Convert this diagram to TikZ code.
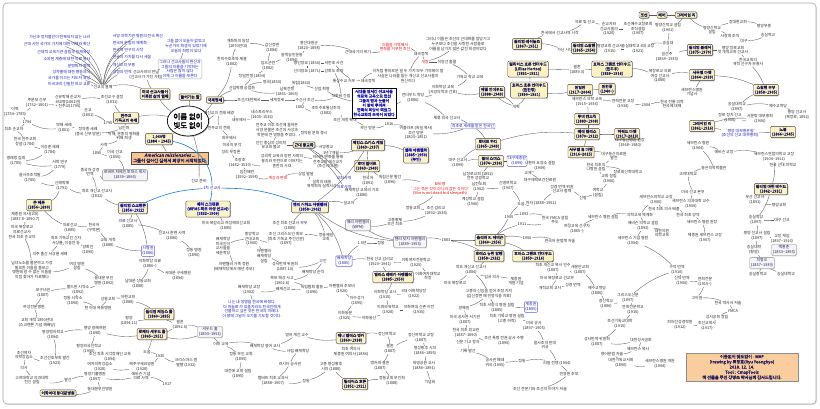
\documentclass[tikz,border=0pt]{standalone}
\usepackage{fontspec}
\newfontfamily\kr[AutoFakeBold=2,AutoFakeSlant=0.2]{Noto Sans CJK KR}
\usetikzlibrary{shadows,shapes.geometric}
\definecolor{kyel}{HTML}{FBF2C4}
\definecolor{knavy}{HTML}{1F1F5F}
\definecolor{kblue}{HTML}{1A1AB4}
\definecolor{kred}{HTML}{E01010}
\definecolor{korg}{HTML}{F8C48C}
\definecolor{kline}{HTML}{5A5A5A}
\newcommand\tw{\char"7E\relax}
\tikzset{
 lbase/.style={font={\kr\fontsize{3.9}{4.6}\selectfont}, align=center, inner sep=0.6pt},
 lb/.style={lbase, text=black!85},
 lbb/.style={lbase, text=kblue},
 lbr/.style={lbase, text=kred},
 tbx/.style={lbase, font={\kr\bfseries\fontsize{3.9}{4.6}\selectfont}, text=knavy, fill=kyel, draw=black!75, line width=0.4pt, rounded corners=1.2pt, inner sep=1.4pt, drop shadow={shadow xshift=0.7pt, shadow yshift=-0.7pt, fill=black!55}},
 tbxb/.style={tbx, text=kblue},
 gbx/.style={lbase, text=knavy, fill=gray!8, draw=black!45, rounded corners=1.5pt, inner sep=1.4pt, drop shadow={shadow xshift=0.6pt, shadow yshift=-0.6pt, fill=black!35}},
 wbx/.style={lbase, text=kblue, fill=white, draw=kblue!70, rounded corners=1pt, inner sep=1pt},
 wbxk/.style={lbase, font={\kr\bfseries\fontsize{3.9}{4.6}\selectfont}, text=kblue, fill=white, draw=black, line width=0.5pt, inner sep=1.5pt, drop shadow={shadow xshift=0.7pt, shadow yshift=-0.7pt, fill=black!55}},
 obx/.style={lbase, font={\kr\bfseries\fontsize{4.4}{5.4}\selectfont}, text=knavy, fill=korg, draw=black!70, line width=0.4pt, inner sep=1.6pt, drop shadow={shadow xshift=0.8pt, shadow yshift=-0.8pt, fill=black!55}},
 con/.style={draw=kline, line width=0.35pt},
 bcon/.style={draw=kblue!55!cyan, line width=0.6pt},
}
\begin{document}
\begin{tikzpicture}[x=1pt,y=-1pt]
\useasboundingbox (0,0) rectangle (820,408);
\fill[white] (0,0) rectangle (820,408);
\draw[draw=black!35, line width=0.6pt, rounded corners=4pt, fill=white, drop shadow={shadow xshift=1pt, shadow yshift=-1pt, fill=black!25}] (3,3) rectangle (816,404);

% ---------------- centre
\node[draw=black, line width=0.7pt, ellipse, fill=white, font={\kr\bfseries\fontsize{7.5}{8.8}\selectfont}, align=center, inner sep=0pt, minimum width=40pt, minimum height=30pt, drop shadow={shadow xshift=0.8pt, shadow yshift=-0.8pt, fill=black!50}] (root) at (188,121) {이름 없이\\빛도 없이};
\node[tbx] (life) at (155,94) {미국 선교사들이\\이룩한 삶의 열매};
\node[tbx] (intro) at (190,97) {들어가는 말};
\node[tbx] (gjs) at (215,100) {국제정세};
\node[tbx] (n1060) at (159,139) {1,060명\\(1884 \tw{} 1945)};
\node[obx] (amer) at (170,158) {\itshape American missionaries ...\\그들이 걸어간 길에서 희망이 시작되었다.};

% ---------------- top-left fan
\node[lb] (hub) at (103,87) {선교의 열매};
\node[lbb,anchor=east] (a1) at (91,37) {가난과 정치불안이 반복되지 않는 나라};
\node[lbb,anchor=east] (a2) at (91,44) {근대 시민 국가의 가치에 대한 이해와 확산};
\node[lbb,anchor=east] (a3) at (91,52) {근대적 교육기관 설립과 인재육성};
\node[lbb,anchor=east] (a4) at (91,59) {소외된 계층에 대한 의료 봉사};
\node[lbb,anchor=east] (a5) at (91,66) {문맹퇴치 협력};
\node[lbb,anchor=east] (a6) at (91,72) {성차별에 대한 평등의식};
\node[lbb,anchor=east] (a7) at (91,78) {국가를 이끄는 지도자 육성};
\node[lbb,anchor=east] (a8) at (91,84) {미국과의 긴밀한 외교 교류};
\node[lbb,anchor=west] (b1) at (112,36) {서양 의학기반 병원의 전국 확산};
\node[lbb,anchor=west] (b2) at (112,43) {한국어 문법의 체계화};
\node[lbb,anchor=west] (b3) at (112,50) {한국학 연구의 시작};
\node[lbb,anchor=west] (b4) at (112,57) {한글의 가치를 다시 세움};
\node[lbb,anchor=west] (b5) at (112,65) {개신교의 부흥};
\node[lbb,anchor=west] (b6) at (112,72) {성경의 번역};
\node[lbb] (c1) at (186,46) {그들 없이 오늘이 없었고\\누군가의 희생이 있었기에\\오늘의 희망이 있다};
\node[lbb, draw=black!30, rounded corners=1.5pt, inner sep=1.2pt] (c2) at (180,69) {그러나 선교사들의 헌신과\\그들의 이름을 기억하는\\사람은 많지 않다\\이제 그 이름을 부른다};
\node[lb] (c3) at (146,75) {선교사와의 만남\\(선교사가 가진 가치)};

% ---------------- left history
\node[tbx] (cath) at (126,118) {천주교\\기독교의 유래};
\node[lb] (k1) at (37,103) {주문모 신부\\(1752\tw1801)};
\node[lb] (k2) at (68,102) {신유박해 순교자\\450명(1801년)\\+ 천주교(1795)};
\node[lb] (k3) at (88,113) {순교\\(1801)};
\node[lb] (k4) at (112,100) {조선교구 설정\\(1831)};
\node[lb] (k5) at (15,112) {이벽\\(1754\tw1785)};
\node[lb] (k6) at (27,122) {1794};
\node[lb] (k7) at (108,123) {1795};
\node[lb] (k8) at (14,129) {최초 순교자};
\node[lb] (k9) at (64,128) {박해 세례\\(1801)};
\node[lb] (k10) at (88,132) {정약종 세례\\(중국 신부 방문)};
\node[lb] (k11) at (124,128) {남인파};
\node[lb] (k12) at (124,136) {박해, 문중의 평화를\\위해 희생};
\node[lb] (k13) at (104,145) {사학};
\node[lb] (k14) at (97,153) {1895};
\node[lb] (k15) at (115,155) {미국 선교\\(1855)};
\node[gbx] (k16) at (125,175) {로버트 저메인 토마스 목사\\(1839\tw1866)};
\node[lb] (k17) at (90,172) {중국어 성경\\번역};
\node[lb] (k18) at (97,194) {최초 개신교 선교사\\(1832)};
\node[lb] (k19) at (25,142) {한국 천주교회\\창설 (1784)};
\node[lb] (k20) at (50,150) {이승훈 세례\\(1784)};
\node[lb] (k21) at (16,161) {명례방 집회\\(1785)};
\node[lb] (k22) at (60,165) {서학 연구\\(1779)};
\node[lb] (k23) at (30,178) {을사추조적발\\(1785)};
\node[lb] (k24) at (62,186) {신해박해\\(1791)};

% ---------------- first missionaries
\node[lbb] (bl1) at (212,188) {1차 선교사};
\node[tbx] (gf1) at (39,205) {존 헤론\\(1856\tw1890)};
\node[tbxb] (gf2) at (133,208) {윌리엄 스크랜튼\\(1856\tw1922)};
\node[tbxb] (gf3) at (208,209) {메리 스크랜튼\\(WFMS 최초 여성 선교사)\\(1832\tw1909)};
\node[tbxb] (gf4) at (310,207) {헨리 거하드 아펜젤러\\(1858\tw1902)};
\node[lb] (h1) at (25,217) {제중원 의사(2대)\\(1887.8\tw1890.7)};
\node[lb] (h2) at (22,232) {미국 북장로교\\의료선교사\\한국 최초 순교자};
\node[lb] (h3) at (70,228) {의료선교\\(1885)};
\node[lb] (h4) at (94,228) {한국어\\(구역본)};
\node[lb] (h5) at (66,241) {최초 기독교인 신자\\서상륜, 이응찬 등};
\node[lb] (h6) at (88,250) {양화진\\(1890)};
\node[lb] (h7) at (50,254) {의주 출신 서상륜 세례};
\node[lb] (h8) at (108,243) {교회 개척\\(1888)};
\node[lb] (s1) at (128,224) {의료 선교사\\(1885)};
\node[wbx] (s2) at (148,251) {시병원\\(1886)};
\node[lb] (s3) at (150,264) {이화학당 의료\\(1886\tw)};
\node[lb] (s4) at (172,236) {선교사 훈련 사역\\(1886)};
\node[lb] (s5) at (194,253) {정동 병원\\(1890)};
\node[lb] (s6) at (178,276) {서대문 구세병원\\(1894)};
\node[lb] (s7) at (138,284) {남대문 상동교회\\(1888)};
\node[lb] (p1) at (226,226) {미국 북감리교 여성해외선교회\\(1885)};
\node[lb] (p2) at (290,226) {조선 최초 선교사 부부\\(1885)};

% ---------------- bottom-left
\node[lb] (l1) at (32,270) {남녀노소를 불문하고 가장\\필요한 이들을 돌보고\\병원에 갈 수 없는 이들을\\직접 찾아가 치료했다};
\node[lb] (l2) at (77,266) {여성 병원\\설립};
\node[lb] (l3) at (104,281) {동대문 부인\\병원 (1892)};
\node[lb] (l4) at (78,290) {볼드윈 시약소\\(1892)};
\node[lb] (l5) at (73,301) {정동 시약소\\(1890)};
\node[lb] (l6) at (43,293) {보구녀관\\(1887)};
\node[lb] (l7) at (34,307) {여성전문병원};
\node[lb] (l8) at (37,323) {교회 개척 1890년대\\(스크랜튼 기념 예배당)};
\node[lb] (l9) at (98,308) {현 이대 목동병원};
\node[lb] (l11) at (108,299) {상동교회};
\node[lb] (l12) at (128,300) {아현교회\\(1888)};
\node[tbx] (l13) at (159,314) {윌리엄 제임스 홀\\(1860\tw1895)};
\node[lb] (l14) at (129,321) {평양\\(1894.11)};
\node[tbx] (l15) at (152,334) {로제타 셔우드 홀\\(1865\tw1951)};
\node[gbx] (l16) at (210,332) {셔우드 홀\\(1893\tw1991)};
\node[lb] (l17) at (180,325) {결혼\\(1892.6)};
\node[lb] (l18) at (95,331) {평양 광혜여원\\(1898)};
\node[lb] (l19) at (53,335) {평양맹아학교\\(1894)};
\node[lb] (l20) at (89,349) {평양외국인학교\\(1900)};
\node[lb] (l21) at (110,357) {조선 최초 시각장애인 교육\\(1894)};
\node[lb] (l22) at (55,361) {조선간호부회 발간\\(1923)};
\node[lb] (l23) at (147,352) {도움};
\node[lb] (l24) at (160,356) {1930};
\node[lb] (l25) at (186,363) {크리스마스 씰\\발행 (1932)};
\node[lb] (l26) at (142,367) {해주구세요양원\\(1928)};
\node[lb] (l27) at (100,367) {여자의학강습소\\(1928)};
\node[lb] (l28) at (24,355) {조선여자\\의학강습소};
\node[lb] (l29) at (24,368) {의사};
\node[lb] (l30) at (32,380) {고려대학교 의과대학\\전신 설립};
\node[lb] (l31) at (68,380) {발간};
\node[lb] (l32) at (95,377) {평양기홀병원\\(1897)};
\node[lb] (l33) at (141,376) {에비슨 기념\\의료 사역};
\node[lb] (l34) at (167,384) {1917};
\node[lb] (l35) at (100,389) {동대문부인병원};
\node[tbx] (l36) at (58,393) {이화여대 동대문병원};

% ---------------- region B (history)
\node[lb] (B1) at (242,88) {산업혁명 공업화};
\node[lb] (B2) at (287,92) {남북전쟁\\(1861\tw1865)};
\node[lb] (B3) at (272,82) {영국(1850)};
\node[lb] (B4) at (301,83) {독립(1860)};
\node[lb] (B5) at (322,89) {산업 혁명};
\node[lb] (B6) at (249,100) {조선/대한제국};
\node[lb] (B7) at (277,100) {세계정세};
\node[lb] (B8) at (305,100) {수신사 조선};
\node[lb] (B9) at (300,107) {1882};
\node[lb] (B10) at (326,111) {조미수호통상조약\\(1882)};
\node[lb] (B11) at (219,113) {개신교의 전래 배경};
\node[lb] (B12) at (239,120) {내부에서};
\node[lb] (B13) at (262,115) {네스토리우스\\(1405\tw1536)};
\node[lb] (B14) at (277,130) {천주교 이후 조선에 들어온\\서양 문물은 조선의 사상과\\학문에 큰 영향을 주었다.};
\node[lb] (B15) at (219,128) {천주교의 전래};
\node[lb] (B16) at (229,138) {외부에서};
\node[lb] (B17) at (314,133) {정약용 문화 중시};
\node[lb] (B18) at (271,145) {인간 중심의 성리학\\유교와 불교};
\node[tbx] (B19) at (304,145) {근대 종교화};
\node[lb] (B20) at (326,147) {서양종교};
\node[lb] (B21) at (232,145) {미국의 부각};
\node[lb] (B22) at (231,152) {성리 부정론};
\node[lb] (B23) at (240,163) {조광조\\(1482\tw1519)};
\node[lb] (B24) at (282,161) {성리학 교육과 양반 사회의\\붕괴와 민란으로 이어지는\\혼란의 시대};
\node[lb] (B25) at (328,162) {이러한 변화를 통해\\천주교와 개신교가\\(조선시대 말)};
\node[lb] (B26) at (247,175) {임진왜란\\(1592\tw1598)};
\node[lbr] (B27) at (278,178) {계승과 변화};
\node[lb] (B28) at (306,174) {상업 발달};
\node[lb] (B29) at (322,184) {실학의 태동\\북학파의 실학사상};
\node[lb] (B30) at (199,181) {선교 준비};
\node[lb] (m1) at (238,44) {개화파의 등장\\(1870년대)};
\node[lb] (m2) at (272,48) {갑신정변\\(1884)};
\node[lb] (m3) at (232,62) {한미수호조약 체결\\(1882)};
\node[lb] (m4) at (268,66) {임오군란\\(1882)};
\node[lb] (m5) at (292,58) {동학농민운동\\(1894)};
\node[lb] (m6) at (252,76) {청일전쟁 (1894)};

% ---------------- region C
\node[lb] (d1) at (309,46) {흥선대원군\\(1820\tw1898)};
\node[lbr] (d2) at (395,47) {이름을 거역해서\\변화를 거부한 조선};
\node[lb] (d3) at (421,54) {쇄국정책};
\node[lb] (d4) at (458,44) {그러나 이들은 조선의 근대화를 앞당기고\\누구보다 조선을 사랑한 사람들로\\이름을 남기지 않은 값진 희생이었다};
\node[lbr] (d5) at (425,62) {개항};
\node[lb] (d6) at (447,62) {이양선 출몰};
\node[lb] (d7) at (408,76) {이처럼 흥미로운 일 두 가지 모두 기억해야 할\\사실은 나라를 돕는 개신교 선교사들의\\헌신이다};
\node[lb] (d8) at (470,77) {기독교 학교 교육};
\node[lb] (d9) at (443,90) {이화학당 교육\\(서양의학과 간호)};
\node[tbx] (d10) at (492,92) {에델 언더우드\\(1888\tw1949)};
\node[wbxk] (d11) at (374,103) {시대를 앞서간 선교사들\\의료와 교육으로 헌신\\그들의 땀과 눈물이\\이 땅에 뿌려져\\민족의 희망이 되었고\\한국교회의 초석이 되었다};
\node[lb] (d12) at (413,98) {언더우드 학당\\(1886)};
\node[lb] (d13) at (447,118) {체류 외국 선교사};
\node[wbx] (d14) at (473,126) {최초로 세례를 받은 한국인};
\node[lb] (d15) at (416,133) {귀츨라프 (독일 목사)\\조선 방문\\(1803\tw1851)};
\node[lb] (d16) at (389,124) {1816};
\node[lb] (d17) at (368,128) {부산 방문};
\node[lb] (d18) at (307,63) {병인양요 (1866)};
\node[lb] (d19) at (334,63) {셔먼호 사건};
\node[lb] (d20) at (307,71) {신미양요 (1871)};
\node[lb] (d21) at (334,71) {강화도 조약};
\node[lb] (d22) at (354,81) {통상수교 거부 → 쇄국정책};
\node[lb] (d23) at (341,96) {척화비 건립};
\node[lb] (d24) at (345,120) {조선 개항 확대};
\node[lb] (d25) at (358,52) {근대국가의 위기};

% ---------------- region D (top right)
\node[tbx] (e1) at (644,15) {조선};
\node[tbx] (e1b) at (662,15) {베버};
\node[tbx] (e1c) at (686,15) {그레이엄 리};
\node[lb] (e2) at (668,28) {평양신학교 설립\\(1901)};
\node[lb] (e3) at (585,22) {의료 및 선교};
\node[lb] (e4) at (560,33) {한국에서 선교사역 시작};
\node[lb] (e5) at (609,29) {순교자와\\선교사들의\\(1920)};
\node[lb] (e6) at (638,29) {조선예수교장로회\\조직설립\\(1907)};
\node[tbx] (e7) at (527,44) {윌리엄 레이놀즈\\(1867\tw1951)};
\node[lb] (e8) at (565,50) {가난 시대};
\node[tbx] (e9) at (584,48) {윌리엄 스왈렌\\(1865\tw1954)};
\node[lb] (e10) at (610,49) {평양교회 선교사\\(1915)};
\node[lb] (e11) at (638,49) {숭실대학교 4대 교장\\(1921)};
\node[lb] (e12) at (668,43) {숭실대};
\node[tbx] (e13) at (700,50) {윌리엄 블레어\\(1875\tw1970)};
\node[lb] (e14) at (733,50) {평양 장로교회\\첫 개척교회 선교사};
\node[lb] (e15) at (748,62) {한국교회의\\개척 선구자 부흥사};
\node[lb] (e16) at (667,57) {길선주\\(1869\tw1935)};
\node[tbx] (e17) at (528,69) {릴리어스 호튼 언더우드\\(Lillias Horton)\\(1851\tw1921)};
\node[lb] (e18) at (577,70) {결혼\\(1889.3)};
\node[tbx] (e19) at (612,69) {호러스 그랜트 언더우드\\(원두우)\\(1859\tw1916)};
\node[lb] (e20) at (660,76) {북장로교 의료\\여성 선교사\\(1888)};
\node[tbx] (e22) at (702,75) {사무엘 마펫\\(1864\tw1939)};
\node[lb] (e23) at (692,92) {세브란스병원\\기념사};
\node[tbx] (e24) at (529,90) {호러스 호튼 언더우드\\(원한경)\\(1890\tw1951)};
\node[tbx] (e25) at (580,90) {원일한\\(1917\tw2004)};
\node[tbx] (e26) at (607,89) {원한광\\(1940\tw)};
\node[lb] (e27) at (587,102) {세브란스 의학 교육\\(1915\tw1934)};
\node[lb] (e28) at (623,104) {연희전문 교장\\(1934)};
\node[lb] (e29) at (646,105) {2004};
\node[lb] (e30) at (672,104) {한국 전통 의학\\한국에 대해};
\node[lb] (e31) at (516,107) {개혁};
\node[tbx] (ek) at (587,119) {루비 켄드릭\\(1883\tw1908)};
\node[tbx] (e32) at (702,126) {그레이엄 리\\(1861\tw1916)};
\node[lbb] (e33) at (740,133) {`평양 대부흥운동'\\(조선의 선교 대부흥회)};
\node[tbx] (e34) at (783,132) {노블\\(1866\tw1945)};
\node[tbx] (e35) at (766,90) {스왈렌 부부\\(1858\tw1905)};
\node[lb] (e36) at (737,107) {숭실대학교\\(1897)};
\node[lb] (e37) at (778,106) {예수교학당};
\node[lb] (e38) at (797,115) {평양 선교사\\(북장로, 1892)};
\node[lb] (e39) at (760,119) {서문밖 대부흥회\\(1906)};
\node[lb] (e40) at (730,118) {장로 정치 선교\\(1904)};
\node[lb] (z1) at (712,30) {평양신학교\\설립};
\node[lb] (z2) at (738,22) {장대현교회};
\node[lb] (z3) at (764,26) {평양부흥};
\node[lb] (z4) at (730,36) {사경회 조직};
\node[lb] (z5) at (744,41) {대구};
\node[lb] (z6) at (768,35) {숭실학교};

% ---------------- region E (centre right)
\node[tbx] (f1) at (368,145) {제임스 스카스 게일\\(1863\tw1937)};
\node[lb] (f2) at (331,153) {1년 7개월};
\node[tbxb] (f3) at (416,155) {엘라 아펜젤러\\(1885\tw1950)\\(부인)};
\node[tbx] (f4) at (367,166) {호머 헐버트\\(1863\tw1949)};
\node[lb] (f5) at (368,181) {한국어\\(1891)};
\node[lbb] (f6) at (344,178) {교회사역};
\node[lbb] (f7) at (344,187) {의료사역};
\node[lb] (f8) at (390,180) {독립신문 발간\\(1896)};
\node[lbr] (f9) at (440,189) {묘비명\\`그는 죽은 것이 아니라 잠든 것이다'\\(She is not dead but sleepeth)};
\node[lb] (f10) at (362,193) {배재학당 교육의 기초\\(1886)};
\node[lb] (f11) at (349,203) {설교자};
\node[lb] (f12) at (413,208) {정동교회};
\node[lb] (f13) at (436,211) {조선 감리교\\(1892\tw1936)};
\node[gbx] (f14) at (410,242) {헨리 닷지 아펜젤러\\(1889\tw1953)};
\node[gbx] (f15) at (358,225) {매리 아펜젤러\\(WFM)};
\node[lb] (f16) at (395,222) {고종황제\\조선 최초};
\node[lb] (f17) at (446,240) {1883};
\node[tbx] (f18) at (490,240) {올리버 R. 에비슨\\(1860\tw1956)};
\node[tbx] (f19) at (489,256) {호러스 뉴턴 알렌\\(1858\tw1932)};
\node[tbx] (f20) at (533,256) {호러스 그랜트 언더우드\\(1859\tw1916)};
\node[tbx] (f21) at (488,144) {로버트 하디\\(1865\tw1949)};
\node[tbx] (f22) at (491,161) {월터 스미스\\(1874\tw1936)};
\node[wbx] (f23) at (517,161) {대구제중원\\(1899)};
\node[lb] (f24) at (458,163) {대구 선교사\\(1899)};
\node[lb] (f25) at (478,176) {남장로교회 (1892)\\전주 성경학교};
\node[lb] (f26) at (479,187) {남전도회\\(1902)};
\node[lb] (f27) at (473,202) {계성학교 설립\\(1906)};
\node[lb] (f28) at (508,186) {신명여학교\\(1907)};
\node[lb] (f29) at (540,166) {나환자 요양소 설립\\(1909)};
\node[lb] (f30) at (528,173) {교제};
\node[lb] (f31) at (540,180) {대구애락보건진료원};

% ---------------- region F
\node[tbx] (g1) at (587,134) {메리 엘리스\\(1870\tw1912)};
\node[tbx] (g2) at (627,134) {하워드 마펫\\(1917\tw2013)};
\node[tbx] (g3) at (581,152) {사무엘 휴 마펫\\(1916\tw2015)};
\node[lb] (g4) at (630,143) {대구동산병원 원장\\(1948\tw1980)};
\node[lb] (g5) at (614,156) {대구동산의료원\\발전};
\node[lb] (g6) at (596,167) {한국 최초의\\나병원 설립};
\node[lb] (g7) at (628,172) {장로회신학대학교};
\node[lb] (g8) at (609,179) {교회 설립\\(1906)};
\node[lb] (g9) at (562,189) {성경 번역 위원\\선교사 협력};
\node[lb] (g10) at (598,193) {여학교\\(설립)};
\node[lb] (g11) at (583,198) {신명};
\node[lb] (g12) at (541,203) {저자 (1888\tw1951)};
\node[lb] (g13) at (521,204) {도움};
\node[lb] (g14) at (509,217) {1905};
\node[lb] (g15) at (524,214) {1893};
\node[lb] (g16) at (522,224) {1911};
\node[lb] (g17) at (555,220) {한국 YMCA 설립\\주도};
\node[lb] (g18) at (577,229) {여성교육 선구자\\(1865\tw)};
\node[lb] (g19) at (527,238) {1950};
\node[lb] (g20) at (560,241) {한국어 문법책 저술};
\node[lb] (g21) at (656,200) {세브란스의학교 교장\\(1900)};
\node[lb] (g22) at (664,209) {한국 최초 의사 배출};
\node[lb] (g23) at (603,217) {세브란스 병원 설립};
\node[lb] (g24) at (640,215) {의학교육 체계화};
\node[lb] (g25) at (643,226) {에비슨 의학교 설립\\(1893)};
\node[lb] (g26) at (662,233) {대한의원\\의학교육};
\node[lb] (g27) at (633,241) {세브란스 기념 병원\\(1904)};
\node[lb] (g28) at (698,146) {세브란스 병원\\(1904)};
\node[lb] (g29) at (724,152) {에비슨 교장};
\node[lb] (g30) at (774,157) {세브란스연합의학교 교장\\(1904\tw1911)};
\node[lb] (g31) at (783,165) {한국 근대 의학교};
\node[lb] (g32) at (714,168) {동은의학박물관};
\node[lb] (g33) at (688,174) {고려대학교};
\node[tbx] (g34) at (771,189) {윌리엄 마틴 베어드\\(1862\tw1931)};
\node[lb] (g35) at (693,192) {미국 선교 본부};
\node[lb] (g36) at (691,204) {세브란스 의과대학 교수\\(1900)};
\node[lb] (g37) at (755,200) {부산 선교사\\(1891)};
\node[lb] (g38) at (779,205) {평양교회};
\node[lb] (g39) at (756,220) {숭실학당\\(1897)};
\node[lb] (g40) at (782,220) {대구 선교};
\node[lb] (g41) at (757,236) {평양 선교사 설립\\(1897)};
\node[lb] (g42) at (782,239) {교장 재임\\(1897\tw1916)};
\node[lb] (g43) at (754,250) {숭실대학\\(평양)};
\node[gbx] (g44) at (784,250) {백홍준\\(1853\tw1893)};
\node[gbx] (g45) at (762,263) {최명오\\(1857\tw1939)};
\node[lb] (g46) at (758,274) {숭실중학교};
\node[lb] (g47) at (786,274) {숭실대학교};
\node[lb] (g48) at (688,215) {한국 최초 양약};
\node[lb] (g49) at (702,222) {세브란스 병원 원장};
\node[lb] (g50) at (705,238) {제중원 세브란스 교장\\(1907)};

% ---------------- region I (bottom centre)
\node[lb] (i1) at (223,246) {배재학당\\미국인이\\교사들을\\세운학당};
\node[lb] (i2) at (252,239) {중앙학교\\근대교육\\(1900)};
\node[lb] (i3) at (286,239) {조선 그리스도인 회보\\(최초 기독교 주간신문)\\(1897)};
\node[lb] (i4) at (326,237) {정동제일\\교회};
\node[lb] (i5) at (264,256) {아펜젤러\\배재학당\\설립};
\node[lb] (i6) at (362,243) {1.5년};
\node[lb] (i7) at (381,243) {정동};
\node[wbx] (i8) at (344,261) {배재학당\\(1885)};
\node[lb] (i9) at (234,267) {아펜젤러 가족 정원\\(배재학당에서 매년 추모)};
\node[lb] (i10) at (285,267) {성서번역 위원회\\(1887.10)};
\node[lb] (i11) at (323,261) {고인};
\node[lb] (i12) at (313,272) {배재학당 순직};
\node[lb] (i13) at (282,281) {목포 해상 사고\\(1902.6)};
\node[lb] (i14) at (380,262) {한국 선교 감리교\\(1920\tw1941)};
\node[lb] (i15) at (416,263) {이화여자전문학교\\(1925)};
\node[tbx] (i16) at (393,277) {앨리스 레베카 아펜젤러\\(1885\tw1950)};
\node[lb] (i17) at (428,276) {이화여자대학교\\학장};
\node[lb] (i18) at (385,295) {이화학당 교사\\(1915)};
\node[lb] (i19) at (414,294) {9대 이화학당장\\(1922)};
\node[lb] (i20) at (388,310) {이화보육학교\\(1928)};
\node[lb] (i21) at (419,310) {이화여대 신촌 이전\\(1935)};
\node[lb] (i22) at (345,316) {이화동문\\(1925)};
\node[lb] (i23) at (369,318) {이화동산};
\node[lbb] (i24) at (252,309) {나는 내 생명을 한국에 바쳤다.\\다 하늘로 가 있을지라도 한국인에게\\선물하고 싶은 것은 한국의 미래다.\\이 땅에 그날이 오기를 기도할 것이다.};
\node[lb] (i25) at (357,301) {자수성가\\(1895)};
\node[lb] (i26) at (249,290) {배재학당 교장\\(1902)};
\node[lb] (i27) at (312,290) {독립협회 활동\\(1896)};
\node[lb] (i28) at (283,289) {배재선교};
\node[lb] (i29) at (342,289) {아펜젤러 추모비\\(1920)};
\node[lb] (i30) at (297,335) {영어 계간 교수};
\node[tbx] (i31) at (351,338) {애니 엘러스 벙커\\(1860\tw1938)};
\node[lb] (i32) at (387,334) {정신여학교};
\node[lb] (i33) at (351,352) {최초 여의사\\제중원 여의사 (1886)};
\node[lb] (i34) at (390,349) {결혼\\(1887)};
\node[lb] (i35) at (421,338) {정신여학교 교장\\(1887)};
\node[lb] (i36) at (425,351) {명성황후 시의\\(1886\tw1895)};
\node[lb] (i37) at (424,366) {육영공원 교사\\(1886\tw1891)};
\node[lb] (i38) at (430,382) {기념비};
\node[lb] (i39) at (380,366) {벙커와 결혼\\(1887)};
\node[lb] (i40) at (392,381) {정동교회 부인회\\(1888)};
\node[tbx] (i41) at (355,384) {릴리어스 호튼\\(1851\tw1921)};
\node[lb] (i42) at (331,367) {고종 명성황후\\시의 (1888)};
\node[lb] (i43) at (306,381) {정동};
\node[lb] (i44) at (273,381) {헐버트 최초 교과서\\(1888\tw1907)};
\node[lb] (i45) at (290,364) {러시아 공사관};
\node[lb] (i46) at (265,346) {배재학당 영어 교사};
\node[lb] (i47) at (298,351) {사립 배재학당};
\node[lb] (i48) at (221,344) {이화 교육};
\node[lb] (i49) at (241,357) {정동 부인 교회\\(1895)};
\node[lb] (i50) at (238,374) {대전에 교회 설립\\(1895)};

% ---------------- region J
\node[lb] (j1) at (471,270) {최초 개신교 선교사\\(1884)};
\node[lb] (j2) at (492,277) {입국 의사};
\node[lb] (j3) at (516,281) {제중원\\개원 기념};
\node[lb] (j4) at (455,283) {미국 북장로교};
\node[lb] (j5) at (489,294) {고종의 신임을 얻어 조정 지지\\(갑신정변 때 민영익을 치료)};
\node[lb] (j6) at (464,308) {광혜원};
\node[lb] (j7) at (497,308) {최초 서양식 병원 설립\\(1885)};
\node[wbx] (j8) at (531,307) {제중원\\(1885)};
\node[lb] (j9) at (507,319) {최초 기독교 병원 설립\\(고종 허락)};
\node[lb] (j10) at (465,320) {미국 공사관 서기관\\(1887)};
\node[lb] (j11) at (466,333) {한국 최초 외교관\\(1887\tw1890)};
\node[lb] (j12) at (504,341) {조선 특명 전권 공사 수행\\(1890)};
\node[lb] (j13) at (534,326) {미국 공사\\(1897\tw1905)};
\node[lb] (j14) at (545,345) {을사조약 반대\\귀국};
\node[lb] (j16) at (468,342) {신문 기고 항의};
\node[lb] (j17) at (468,351) {기록 발간};
\node[lb] (j18) at (495,363) {공사관 폐쇄\\귀국 (1905)};
\node[lb] (j19) at (522,361) {정동};
\node[lb] (j20) at (557,363) {러일 전쟁 (1904)};
\node[lb] (j21) at (569,374) {민영환 추모};
\node[lb] (j22) at (540,389) {조선 견문기와 조선의 이야기 저술};
\node[lb] (j24) at (553,268) {최초 개신교 목사 안수\\(1887)};
\node[lb] (j25) at (557,278) {미국 북장로교 선교부};
\node[lb] (j26) at (550,288) {개척교회 교사};
\node[lb] (j27) at (573,285) {성경 번역};
\node[lb] (j28) at (580,270) {새문안교회\\(1887)};
\node[lb] (j29) at (597,291) {예수교학당\\(1886)};
\node[lb] (j30) at (606,304) {경신학교\\(1886)};
\node[lb] (j31) at (628,298) {그리스도신문\\(1897)};
\node[lb] (j32) at (633,310) {연희전문학교\\(1915)};
\node[lb] (j33) at (620,324) {조선기독교대학\\(1915)};
\node[lb] (j34) at (641,340) {대한성서공회};
\node[lb] (j35) at (597,342) {성서번역 위원회\\(1887)};
\node[lb] (j36) at (638,349) {세브란스 목사};
\node[lb] (j37) at (612,354) {영어문법 저술};
\node[lb] (j38) at (621,363) {대한기독교서회\\(1890)};
\node[lb] (j39) at (660,364) {세브란스병원 개원\\(1904)};
\node[lb] (j40) at (677,270) {구약 번역\\(1910)};
\node[lb] (j41) at (682,281) {신약 번역\\(1900)};
\node[lb] (j42) at (705,282) {연희전문\\(1915\tw)};
\node[lb] (j43) at (697,298) {고아원};
\node[lb] (j44) at (728,303) {한국 역사서 저술};
\node[lb] (j45) at (733,311) {YMCA};
\node[lb] (j46) at (717,317) {성서공회 창립};
\node[lb] (j47) at (680,325) {피어선성경학원\\(1912)};
\node[lb] (j48) at (707,326) {조선교회사\\(1917)};

% ---------------- credits
\node[obx, fill=korg!85, draw=black!45, minimum width=112pt, minimum height=28pt, font={\kr\bfseries\fontsize{4.2}{5.2}\selectfont}] (cred) at (742,367) {이름없이 빛도없이 - MAP\\Drawing by 류영효(Ryu Yeonghyo)\\2018. 12. 14.\\Tool : CmapTools\\책 선물을 주신 강병초 박사님께 감사드립니다.};

% ================= connectors
\foreach \a/\b/\c in {hub/a1/-30,hub/a2/-26,hub/a3/-22,hub/a4/-18,hub/a5/-14,hub/a6/-10,hub/a7/-6,hub/a8/-3,
 hub/b1/28,hub/b2/24,hub/b3/20,hub/b4/16,hub/b5/12,hub/b6/8}
 \draw[con] (\a) to[bend left=\c] (\b);
\foreach \a/\b/\c in {root/life/10,root/intro/0,root/gjs/-10,root/n1060/10,life/hub/-15,life/c3/10,c3/c2/10,c2/c1/10,
 n1060/amer/0,root/cath/-10,cath/k4/10,cath/k7/0,cath/k11/10,k11/k12/10,k4/k2/-10,k2/k1/10,k3/k2/0,k7/k3/-10,k1/k5/15,k5/k6/10,k6/k8/10,k6/k9/-15,k9/k10/10,k10/k11/-10,
 k12/k13/10,k13/k14/10,k14/k15/-10,k15/k16/15,k16/k17/15,k17/k18/10,k18/gf2/-10,k8/k19/15,k19/k20/-10,k20/k21/15,k21/k22/-10,k22/k23/15,k23/k24/-10,k24/k18/-10,k24/gf1/20,
 gf1/h1/10,h1/h2/10,gf1/h3/-10,h3/h4/10,h3/h5/10,h5/h6/10,h5/h7/-10,h4/h8/10,gf2/s1/10,gf2/s2/10,s2/s3/10,s1/s4/10,s4/s5/10,s3/s6/-10,s3/s7/10,gf3/p1/10,gf4/p2/-10,
 s2/h8/10,h2/l1/10,l1/l2/-10,l2/l3/10,l3/l4/10,l4/l5/10,l4/l6/-10,l6/l7/10,l7/l8/10,l5/l9/10,l9/l11/-10,l11/l12/10,l12/l13/10,l13/l14/10,l13/l17/-10,l17/l15/10,l15/l16/-15,l17/l16/10,
 l15/l18/10,l18/l19/-10,l18/l20/10,l20/l21/10,l19/l22/10,l15/l23/10,l23/l24/10,l24/l25/-10,l24/l26/10,l26/l27/10,l22/l28/10,l28/l29/10,l29/l30/10,l30/l31/-10,l31/l32/10,l32/l33/-10,l33/l34/10,l32/l35/10,l35/l36/10,
 gjs/B1/10,B1/B3/10,B1/B2/-10,B2/B4/10,B4/B5/-10,gjs/B6/0,B6/B7/0,B7/B8/0,B8/B9/10,B9/B10/-10,root/B11/-10,B11/B12/10,B12/B13/-10,B13/B14/10,B11/B15/-10,B15/B16/10,B16/B21/-10,B14/B17/-10,
 B18/B19/0,B19/B20/0,B14/B18/10,B21/B22/10,B22/B23/-10,B23/B24/-10,B24/B25/10,B23/B26/10,B26/B27/-10,B27/B28/10,B28/B29/-10,B19/f6/10,B19/f7/10,root/B30/10,B20/f2/10,
 gjs/m3/-15,m3/m1/10,m1/m2/10,m2/m4/-10,m4/m5/10,m4/m6/10,m6/B1/10,m5/d1/-10,
 B10/d24/10,d24/d17/10,d17/d16/-10,d16/d15/10,d15/d14/-10,d13/d14/10,d12/d13/10,d11/d12/-10,d11/B5/10,d7/d3/10,d3/d2/-10,d2/d25/10,d1/d25/10,d4/d5/10,d5/d6/0,d6/d8/10,d8/d9/10,d9/d10/-10,d7/d22/-10,
 d22/d19/10,d19/d18/0,d18/d20/10,d20/d21/0,d21/d23/10,d23/B8/10,d3/d5/10,d12/d9/-10,d10/e31/10,
 e7/e4/10,e4/e3/-10,e3/e5/10,e5/e6/0,e6/e1/-10,e1/e1b/0,e1b/e1c/0,e1c/e2/10,e2/e12/10,e7/e8/10,e8/e9/0,e9/e10/10,e10/e11/0,e11/e12/10,e12/e16/10,e16/e13/10,e13/e14/0,e14/e15/10,e1c/z1/-10,z1/z2/10,z2/z3/10,z1/z4/10,z4/z5/10,z5/z6/-10,
 e17/e18/0,e18/e19/0,e19/e20/10,e20/e22/10,e22/e23/10,e17/e24/10,e24/e25/-10,e25/e26/0,e25/e27/10,e27/e28/10,e28/e29/0,e29/e30/10,e24/e31/10,e31/d10/10,e27/ek/10,ek/g1/10,
 e22/e35/10,e35/e36/-10,e36/e37/10,e37/e38/10,e36/e40/10,e40/e39/-10,e39/e32/-10,e32/e33/0,e33/e34/0,e15/e35/10,
 f1/f2/10,gf4/f1/-10,f1/f3/10,f1/f4/0,f4/f5/10,f4/f8/-10,f8/f9/10,f5/f10/10,f10/f11/10,gf4/f11/10,f9/f12/10,f12/f13/0,f13/f16/10,f16/f15/10,f15/f14/-10,gf4/f14/-15,f14/f17/10,f17/f18/0,f17/f19/10,f18/f20/10,
 d14/f21/10,f21/f24/-10,f24/f22/10,f22/f23/0,f22/f25/10,f25/f26/10,f26/f27/10,f26/f28/-10,f23/f29/10,f29/f30/10,f30/f31/10,f28/g13/10,
 f21/g1/10,g1/g2/0,g1/g3/10,g2/g4/10,g3/g5/10,g5/g6/10,g6/g7/10,g6/g8/-10,g8/g10/10,g10/g11/0,g9/g11/10,f18/g14/-10,g14/g13/10,g13/g12/-10,g12/g9/10,g14/g15/10,g15/g17/10,g16/g17/-10,g17/g18/10,f18/g16/10,f18/g19/10,g19/g20/10,
 g18/g23/10,g23/g24/10,g24/g25/10,g25/g26/10,g24/g21/10,g21/g22/-10,g25/g27/10,g21/g36/10,g36/g35/10,g35/g33/10,g33/g32/10,g32/g28/-10,g28/g29/10,g29/g30/10,g30/g31/10,g22/g48/10,g48/g49/10,g49/g50/10,
 g34/g37/10,g37/g38/-10,g34/g39/10,g39/g40/0,g39/g41/10,g41/g42/0,g41/g43/10,g43/g45/10,g42/g44/10,g45/g46/10,g45/g47/-10,g34/g30/-10,
 gf4/i4/10,i4/i3/-10,i3/i2/10,i2/i1/-10,i1/i9/10,i2/i5/10,i5/i10/10,i10/i11/-10,i11/i12/10,i12/i13/10,gf4/i8/15,i8/i6/10,i6/i7/0,i8/i14/10,i14/i15/0,i15/i17/10,i16/i14/10,i16/i17/-10,i16/i18/10,i18/i19/0,i18/i20/10,i20/i21/0,i20/i23/10,i23/i22/0,
 i22/i25/10,i25/i29/10,i29/i27/-10,i27/i28/0,i28/i26/10,i26/i24/10,i13/i27/10,
 i31/i30/10,i31/i32/10,i32/i34/10,i31/i33/10,i34/i35/10,i35/i36/10,i36/i37/10,i37/i38/10,i34/i39/10,i39/i40/10,i40/i41/-10,i41/i42/10,i42/i43/10,i43/i44/10,i44/i45/-10,i45/i47/10,i47/i46/10,i46/i48/-10,i48/l16/10,i48/i49/10,i49/i50/10,i30/i46/10,
 f19/j1/10,j1/j4/10,j1/j2/-10,j2/j3/10,j1/j5/10,j5/j6/10,j5/j7/-10,j7/j8/0,j7/j9/10,j6/j10/10,j10/j11/10,j11/j12/-10,j9/j13/10,j13/j14/10,j11/j16/10,j16/j17/10,j17/j18/10,j18/j19/0,j19/j20/10,j20/j21/10,j21/j22/10,j14/j20/10,
 f20/j24/10,j24/j25/10,j25/j26/10,j26/j27/0,j24/j28/-10,j28/j29/10,j29/j30/10,j30/j31/-10,j31/j32/10,j32/j33/10,j33/j35/10,j35/j34/-10,j34/j36/10,j36/j37/10,j37/j38/10,j38/j39/-10,
 j31/j40/10,j40/j41/10,j41/j42/0,j42/j43/10,j43/j44/10,j44/j45/10,j45/j46/-10,j46/j48/10,j48/j47/0,g27/j40/10}
 \draw[con] (\a) to[bend left=\c] (\b);
% blue main connectors
\draw[bcon] (n1060) to[out=-10,in=90] (bl1);
\draw[bcon] (bl1) to[bend right=10] (gf2);
\draw[bcon] (bl1) to[bend left=5] (gf3);
\draw[bcon] (bl1) to[bend left=10] (gf4);
\end{tikzpicture}
\end{document}
